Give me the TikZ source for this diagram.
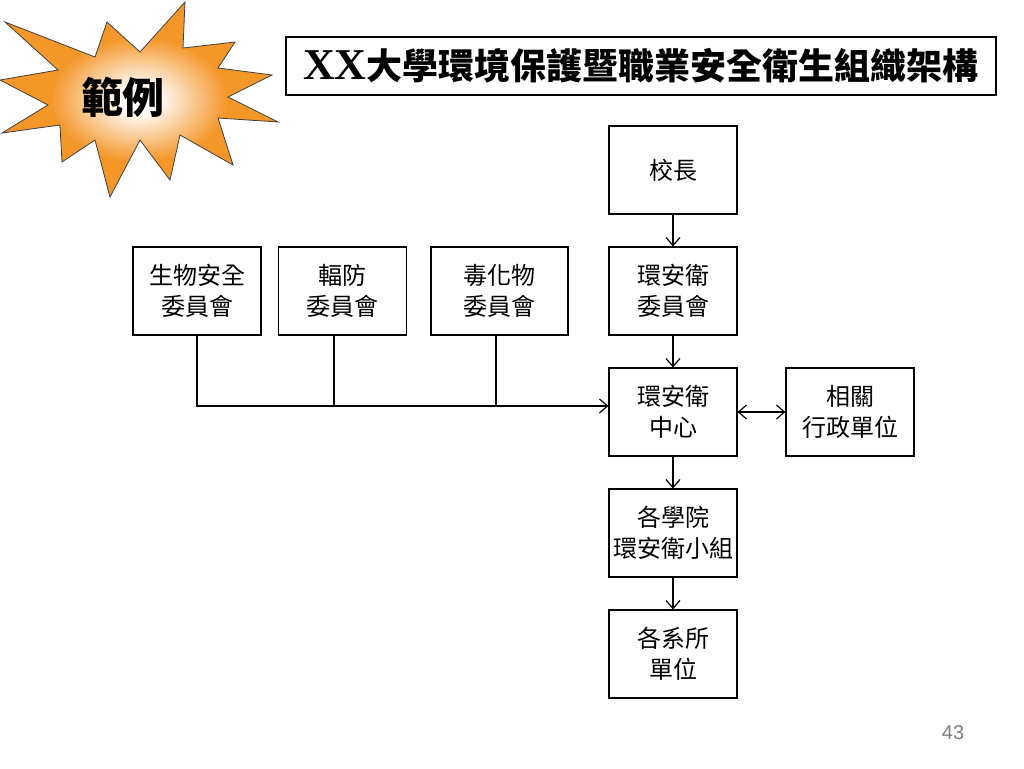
\documentclass[tikz,border=0pt]{standalone}
\usepackage{fontspec}
\setmainfont{Noto Sans CJK TC}
\newfontfamily\latinbf{Liberation Serif}
\newfontfamily\pagenum{Liberation Sans}
\usetikzlibrary{arrows.meta}

\definecolor{burst}{RGB}{244,150,40}
\pgfdeclareradialshading{burstshade}{\pgfpoint{0bp}{0bp}}{%
    color(0bp)=(white); color(3bp)=(white); color(16bp)=(burst); color(50bp)=(burst)}

\tikzset{
    unit/.style={draw, line width=0.6pt, minimum width=64pt, minimum height=44pt,
        inner sep=0pt, align=center, font=\fontsize{12pt}{15.5pt}\selectfont},
    link/.style={line width=0.6pt},
}

\begin{document}
\begin{tikzpicture}[x=0.5pt,y=-0.5pt,>={Straight Barb[length=4pt,width=7pt]}]
        \fill[white] (0,0) rectangle (1024,768);
        \useasboundingbox (0,0) rectangle (1024,768);

        % starburst
        \shade[draw=black!75, line width=0.4pt, shading=burstshade]
            (5,22) -- (95,57) -- (107,22) -- (140,52) -- (185,2) -- (183,48)
            -- (235,42) -- (218,68) -- (272,75) -- (228,97) -- (278,122)
            -- (218,118) -- (233,165) -- (180,135) -- (170,180) -- (140,140)
            -- (110,197) -- (95,140) -- (62,162) -- (60,125) -- (2,133)
            -- (48,105) -- (0,80) -- (58,70) -- cycle;
        \node[font=\fontsize{21pt}{24pt}\selectfont\bfseries] (ex) at (123,97) {範例};

        % title
        \node[draw, line width=0.6pt, minimum width=355pt, minimum height=29pt, inner sep=0pt,
            font=\fontsize{18pt}{20pt}\selectfont\bfseries] (title) at (641,66)
            {{\latinbf\fontsize{22pt}{22pt}\selectfont\bfseries XX}大學環境保護暨職業安全衛生組織架構};

        % main column
        \node[unit] (head) at (673,170) {校長};
        \node[unit] (cmte) at (673,291) {環安衛\\委員會};
        \node[unit] (ctr) at (673,412) {環安衛\\中心};
        \node[unit] (coll) at (673,533) {各學院\\環安衛小組};
        \node[unit] (dept) at (673,654) {各系所\\單位};
        \node[unit] (admin) at (850,412) {相關\\行政單位};

        % committees
        \node[unit] (bio) at (197,291) {生物安全\\委員會};
        \node[unit] (rad) at (342.5,291) {輻防\\委員會};
        \node[unit, minimum width=68.5pt] (tox) at (499.5,291) {毒化物\\委員會};

        \foreach \a/\b in {head/cmte, cmte/ctr, ctr/coll, coll/dept}{
            \draw[link,->] (\a) -- (\b);
        }
        \draw[link,<->] (ctr) -- (admin);

        \coordinate (bus) at (197,406);
        \draw[link,->] (bio.south) -- (bus) -- (bus -| ctr.west);
        \foreach \n/\x in {rad/334, tox/496}{
            \coordinate (j\n) at (\x,406);
            \draw[link] (j\n |- \n.south) -- (j\n);
        }

        \node[font=\pagenum\fontsize{10pt}{12pt}\selectfont, text=gray] (pg) at (953,733) {43};
    \end{tikzpicture}
\end{document}
